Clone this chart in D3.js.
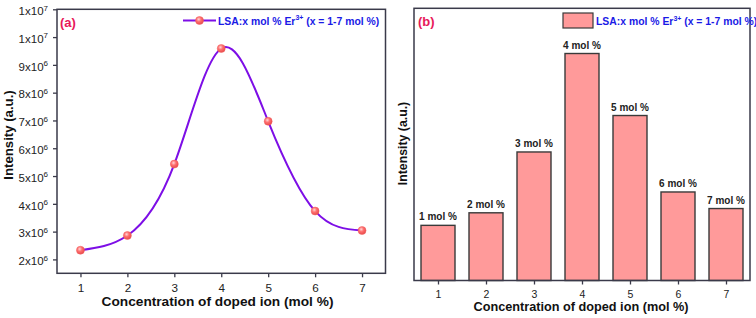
<!DOCTYPE html>
<html>
<head>
<meta charset="utf-8">
<script src="https://cdn.jsdelivr.net/npm/d3@7"></script>
<style>
  body { margin: 0; background: #fff; }
  svg { display: block; }
  text { font-family: "Liberation Sans", Arial, sans-serif; }
</style>
</head>
<body>
<svg id="chart" width="756" height="318"></svg>
<script>
// data
const conc = [1, 2, 3, 4, 5, 6, 7];
const intensity = [2.33e6, 2.86e6, 5.43e6, 9.59e6, 6.97e6, 3.74e6, 3.04e6];
const barLabels = ['1 mol %', '2 mol %', '3 mol %', '4 mol %', '5 mol %', '6 mol %', '7 mol %'];
const yTicks = [2e6, 3e6, 4e6, 5e6, 6e6, 7e6, 8e6, 9e6, 1e7, 1.1e7];
const yTickMant = ['2', '3', '4', '5', '6', '7', '8', '9', '1', '1'];
const yTickExp = ['6', '6', '6', '6', '6', '6', '6', '6', '7', '7'];
const legendText = ['LSA:x mol % Er', '3+', ' (x = 1-7 mol %)'];

const svg = d3.select('#chart');
const frameCol = '#3a3a4a';

// gradient for the ball markers
const defs = svg.append('defs');
const grad = defs.append('radialGradient').attr('id', 'ball')
  .attr('cx', '40%').attr('cy', '35%').attr('r', '65%');
grad.append('stop').attr('offset', '0%').attr('stop-color', '#ffd6d6');
grad.append('stop').attr('offset', '45%').attr('stop-color', '#ff7070');
grad.append('stop').attr('offset', '100%').attr('stop-color', '#e84a4a');

function legendLabel(g, x0, y0) {
  const lt = g.append('text').attr('x', x0).attr('y', y0)
    .attr('font-family', 'Lato, "Open Sans", sans-serif').attr('font-weight', 'bold')
    .attr('font-size', 10.4).attr('fill', '#1a1ae6');
  lt.append('tspan').text(legendText[0]);
  lt.append('tspan').attr('font-size', 7).attr('dy', -4.2).text(legendText[1]);
  lt.append('tspan').attr('dy', 4.2).text(legendText[2]);
}

// ---------- panel (a) ----------
{
  const L = 57, R = 385.5, T = 9.3, B = 273.3;
  const x = d3.scaleLinear().domain([0.5, 7.5]).range([L, R]);
  const y = d3.scaleLinear().domain([1.5e6, 1.1e7]).range([B, T]);
  const g = svg.append('g');

  const xAxis = g.append('g').attr('transform', `translate(0,${B})`)
    .call(d3.axisBottom(x).tickValues(conc).tickSize(4).tickPadding(6).tickFormat(d3.format('d')));
  xAxis.select('.domain').remove();
  xAxis.selectAll('line').attr('stroke', frameCol).attr('stroke-width', 1.3);
  xAxis.selectAll('text').attr('font-size', 11.7).attr('fill', '#222')
    .attr('font-family', '"Liberation Sans", Arial, sans-serif');

  const yAxis = g.append('g').attr('transform', `translate(${L},0)`)
    .call(d3.axisLeft(y).tickValues(yTicks).tickSize(4).tickPadding(3).tickFormat(''));
  yAxis.select('.domain').remove();
  yAxis.selectAll('line').attr('stroke', frameCol).attr('stroke-width', 1.3);
  yAxis.selectAll('.tick').each(function(d, i) {
    const t = d3.select(this).append('text')
      .attr('x', -9).attr('dy', '0.45em').attr('text-anchor', 'end')
      .attr('font-size', 11.5).attr('fill', '#222');
    t.append('tspan').text(yTickMant[i] + 'x10');
    t.append('tspan').attr('font-size', 8).attr('dy', '-0.55em').text(yTickExp[i]);
  });

  g.append('rect').attr('x', L).attr('y', T).attr('width', R - L).attr('height', B - T)
    .attr('fill', 'none').attr('stroke', frameCol).attr('stroke-width', 1.5);

  const pts = conc.map((c, i) => [c, intensity[i]]);
  g.append('path').datum(pts)
    .attr('d', d3.line().x(d => x(d[0])).y(d => y(d[1])).curve(d3.curveNatural))
    .attr('fill', 'none').attr('stroke', '#7d0ee6').attr('stroke-width', 2);
  g.selectAll('circle.pt').data(pts).join('circle').attr('class', 'pt')
    .attr('cx', d => x(d[0])).attr('cy', d => y(d[1])).attr('r', 4)
    .attr('fill', 'url(#ball)').attr('stroke', '#f06060').attr('stroke-width', 0.5);

  // legend
  g.append('line').attr('x1', 183).attr('x2', 216).attr('y1', 20.5).attr('y2', 20.5)
    .attr('stroke', '#7d0ee6').attr('stroke-width', 2);
  g.append('circle').attr('cx', 199.5).attr('cy', 20.5).attr('r', 4)
    .attr('fill', 'url(#ball)').attr('stroke', '#f06060').attr('stroke-width', 0.5);
  legendLabel(g, 218, 24.5);

  g.append('text').attr('x', 60).attr('y', 27).attr('font-weight', 'bold')
    .attr('font-family', 'Lato, sans-serif').attr('font-size', 13).attr('fill', '#e8185a').text('(a)');

  g.append('text').attr('x', 217.5).attr('y', 306).attr('text-anchor', 'middle')
    .attr('font-weight', 'bold').attr('font-size', 13.7).attr('fill', '#111')
    .text('Concentration of doped ion (mol %)');
  g.append('text').attr('transform', `translate(13,135) rotate(-90)`)
    .attr('text-anchor', 'middle').attr('font-weight', 'bold').attr('font-size', 13.2)
    .attr('fill', '#111').text('Intensity (a.u.)');
}

// ---------- panel (b) ----------
{
  const L = 414, R = 750, T = 8.3, B = 280.5;
  const x = d3.scaleLinear().domain([0.5, 7.5]).range([L, R]);
  const y = d3.scaleLinear().domain([0, 1.15e7]).range([B, T]);
  const bw = 34;
  const g = svg.append('g');

  g.selectAll('rect.bar').data(conc).join('rect').attr('class', 'bar')
    .attr('x', d => x(d) - bw / 2).attr('width', bw)
    .attr('y', (d, i) => y(intensity[i])).attr('height', (d, i) => B - y(intensity[i]))
    .attr('fill', '#ff9a9a').attr('stroke', '#3a3a3a').attr('stroke-width', 1.4);

  g.selectAll('text.bl').data(conc).join('text').attr('class', 'bl')
    .attr('x', d => x(d)).attr('y', (d, i) => y(intensity[i]) - 5)
    .attr('text-anchor', 'middle').attr('font-family', 'Lato, "Open Sans", sans-serif')
    .attr('font-weight', 'bold').attr('font-size', 10).attr('fill', '#222')
    .text((d, i) => barLabels[i]);

  const xAxis = g.append('g').attr('transform', `translate(0,${B})`)
    .call(d3.axisBottom(x).tickValues(conc).tickSize(4).tickPadding(6).tickFormat(d3.format('d')));
  xAxis.select('.domain').remove();
  xAxis.selectAll('line').attr('stroke', frameCol).attr('stroke-width', 1.3);
  xAxis.selectAll('text').attr('font-size', 10.5).attr('fill', '#222')
    .attr('font-family', '"Liberation Sans", Arial, sans-serif');

  g.append('rect').attr('x', L).attr('y', T).attr('width', R - L).attr('height', B - T)
    .attr('fill', 'none').attr('stroke', frameCol).attr('stroke-width', 1.5);

  // legend
  g.append('rect').attr('x', 563).attr('y', 13).attr('width', 30).attr('height', 15)
    .attr('fill', '#ff9a9a').attr('stroke', '#3a3a3a').attr('stroke-width', 1.2);
  legendLabel(g, 596, 25);

  g.append('text').attr('x', 418).attr('y', 26).attr('font-weight', 'bold')
    .attr('font-family', 'Lato, sans-serif').attr('font-size', 13).attr('fill', '#e8185a').text('(b)');

  g.append('text').attr('x', (L + R) / 2 - 1).attr('y', 311).attr('text-anchor', 'middle')
    .attr('font-weight', 'bold').attr('font-size', 12.7).attr('fill', '#111')
    .text('Concentration of doped ion (mol %)');
  g.append('text').attr('transform', `translate(407,143.5) rotate(-90)`)
    .attr('text-anchor', 'middle').attr('font-weight', 'bold').attr('font-size', 12.3)
    .attr('fill', '#111').text('Intensity (a.u.)');
}
</script>
</body>
</html>
